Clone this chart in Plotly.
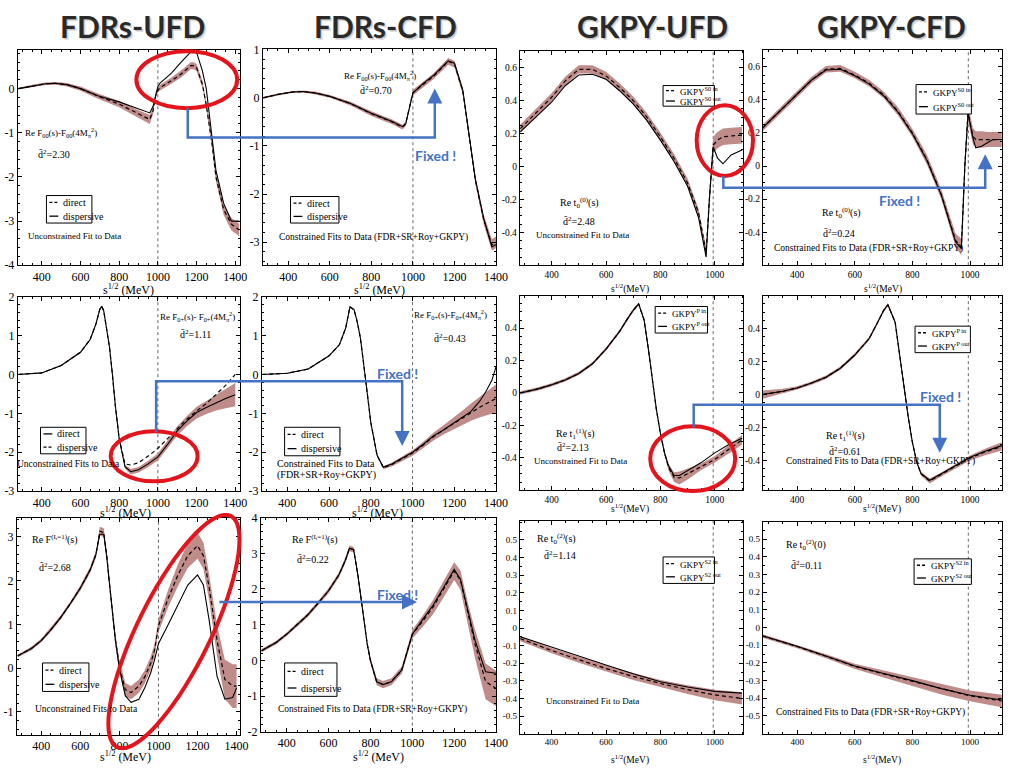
import math
import plotly.graph_objects as go

W, H = 1015, 777

# ---------------- data ----------------
# Row 1: Re F00(s)-F00(4M^2)  (FDRs)
f00u_x = [280, 350, 420, 470, 530, 600, 690, 800, 900, 958, 975, 990, 1000, 1010, 1070, 1120, 1170, 1185, 1200, 1230, 1250, 1280, 1300, 1340, 1380, 1420]
f00u_direct = [0, 0.06, 0.11, 0.12, 0.09, 0.0, -0.17, -0.35, -0.58, -0.70, -0.5, -0.12, -0.04, 0.02, 0.18, 0.33, 0.52, 0.52, 0.48, 0.1, -0.37, -1.26, -2.0, -2.74, -3.07, -3.2]
f00u_disp = [0, 0.06, 0.11, 0.12, 0.09, 0.0, -0.16, -0.30, -0.46, -0.55, -0.4, -0.1, 0.05, 0.12, 0.35, 0.6, 0.82, 0.9, 0.82, 0.4, 0.0, -1.1, -1.85, -2.6, -3.0, -3.0]
f00u_err = [0.02, 0.03, 0.03, 0.03, 0.04, 0.05, 0.06, 0.07, 0.09, 0.1, 0.08, 0.06, 0.06, 0.06, 0.07, 0.08, 0.08, 0.08, 0.08, 0.08, 0.08, 0.1, 0.1, 0.12, 0.14, 0.14]

f00c_x = [280, 350, 420, 470, 530, 600, 700, 800, 900, 950, 965, 985, 1000, 1050, 1100, 1170, 1200, 1240, 1270, 1300, 1340, 1380, 1400]
f00c_direct = [0, 0.07, 0.12, 0.13, 0.1, 0.03, -0.12, -0.33, -0.5, -0.61, -0.54, -0.13, 0.11, 0.28, 0.45, 0.76, 0.7, 0.14, -0.81, -1.7, -2.52, -3.06, -3.0]
f00c_disp = [0, 0.07, 0.12, 0.13, 0.1, 0.03, -0.12, -0.32, -0.49, -0.6, -0.55, -0.14, 0.1, 0.3, 0.47, 0.77, 0.72, 0.16, -0.78, -1.68, -2.5, -3.1, -3.05]
f00c_err = [0.02, 0.02, 0.02, 0.02, 0.03, 0.03, 0.04, 0.05, 0.05, 0.05, 0.05, 0.05, 0.06, 0.06, 0.06, 0.07, 0.07, 0.07, 0.07, 0.08, 0.1, 0.12, 0.12]

# Row 1: Re t0^(0)(s)  (GKPY)
s0u_x = [285, 350, 400, 450, 500, 550, 600, 650, 700, 750, 800, 850, 900, 940, 968, 980, 994, 1010, 1030, 1060, 1100]
s0u_in = [0.23, 0.34, 0.42, 0.52, 0.59, 0.59, 0.55, 0.48, 0.40, 0.30, 0.18, 0.05, -0.10, -0.28, -0.52, -0.2, 0.13, 0.16, 0.18, 0.185, 0.19]
s0u_out = [0.21, 0.31, 0.39, 0.49, 0.555, 0.56, 0.53, 0.46, 0.38, 0.28, 0.16, 0.03, -0.12, -0.31, -0.55, -0.2, 0.12, 0.05, 0.016, 0.07, 0.10]
s0u_err = [0.025, 0.025, 0.025, 0.025, 0.025, 0.025, 0.025, 0.025, 0.025, 0.025, 0.025, 0.025, 0.025, 0.025, 0.03, 0.04, 0.05, 0.05, 0.05, 0.05, 0.05]

s0c_x = [280, 350, 400, 450, 500, 550, 600, 650, 700, 750, 800, 850, 900, 950, 970, 982, 993, 1010, 1020, 1040, 1060, 1080, 1110]
s0c_in = [0.23, 0.35, 0.43, 0.52, 0.585, 0.59, 0.55, 0.5, 0.43, 0.33, 0.2, 0.04, -0.17, -0.45, -0.49, 0.0, 0.32, 0.18, 0.16, 0.16, 0.16, 0.16, 0.16]
s0c_out = [0.23, 0.35, 0.43, 0.52, 0.58, 0.585, 0.545, 0.495, 0.425, 0.325, 0.195, 0.035, -0.175, -0.46, -0.5, 0.0, 0.32, 0.17, 0.11, 0.12, 0.14, 0.16, 0.16]
s0c_err = [0.02, 0.02, 0.02, 0.02, 0.02, 0.02, 0.02, 0.02, 0.02, 0.025, 0.025, 0.03, 0.03, 0.04, 0.05, 0.05, 0.05, 0.05, 0.05, 0.05, 0.045, 0.045, 0.045]

# Row 2: Re F0+(s)-F0+(4M^2)  (FDRs)
f0pu_x = [280, 400, 500, 600, 650, 680, 700, 710, 720, 735, 750, 765, 780, 800, 830, 860, 900, 950, 1000, 1050, 1100, 1150, 1200, 1250, 1300, 1350, 1400]
f0pu_direct = [0, 0.04, 0.23, 0.57, 0.9, 1.3, 1.68, 1.75, 1.64, 1.2, 0.7, 0.0, -0.8, -1.65, -2.37, -2.5, -2.45, -2.3, -2.12, -1.8, -1.45, -1.2, -0.98, -0.85, -0.73, -0.62, -0.52]
f0pu_disp = [0, 0.04, 0.23, 0.57, 0.9, 1.3, 1.68, 1.75, 1.64, 1.2, 0.7, 0.0, -0.8, -1.65, -2.3, -2.33, -2.27, -2.1, -1.9, -1.65, -1.4, -1.15, -0.94, -0.75, -0.52, -0.28, 0.0]
f0pu_err = [0.01, 0.01, 0.01, 0.02, 0.02, 0.03, 0.03, 0.03, 0.03, 0.03, 0.03, 0.03, 0.03, 0.03, 0.05, 0.07, 0.07, 0.08, 0.09, 0.1, 0.12, 0.13, 0.15, 0.17, 0.2, 0.25, 0.3]

f0pc_x = [280, 400, 500, 600, 650, 680, 700, 720, 735, 750, 765, 780, 800, 830, 860, 900, 950, 1000, 1050, 1100, 1150, 1200, 1250, 1280, 1320, 1350, 1380, 1400]
f0pc_direct = [0, 0.03, 0.14, 0.48, 0.77, 1.2, 1.74, 1.66, 1.35, 0.94, 0.3, -0.4, -1.24, -2.08, -2.4, -2.32, -2.17, -2.02, -1.82, -1.6, -1.42, -1.25, -1.08, -0.97, -0.85, -0.76, -0.68, -0.62]
f0pc_disp = [0, 0.03, 0.14, 0.48, 0.77, 1.2, 1.74, 1.66, 1.35, 0.94, 0.3, -0.4, -1.24, -2.08, -2.38, -2.3, -2.15, -2.0, -1.8, -1.58, -1.42, -1.24, -1.08, -0.95, -0.7, -0.45, -0.15, 0.2]
f0pc_err = [0.01, 0.01, 0.01, 0.01, 0.01, 0.01, 0.01, 0.01, 0.01, 0.01, 0.01, 0.02, 0.02, 0.02, 0.04, 0.05, 0.06, 0.07, 0.08, 0.1, 0.12, 0.15, 0.2, 0.22, 0.26, 0.3, 0.33, 0.36]

# Row 2: Re t1^(1)(s)  (GKPY)
pu_x = [285, 350, 400, 450, 500, 550, 600, 650, 680, 700, 720, 740, 755, 770, 785, 800, 815, 830, 850, 870, 900, 950, 1000, 1050, 1100]
pu_in = [0, 0.025, 0.05, 0.08, 0.12, 0.18, 0.27, 0.38, 0.46, 0.51, 0.55, 0.45, 0.28, 0.077, -0.1, -0.25, -0.37, -0.46, -0.52, -0.525, -0.5, -0.455, -0.41, -0.35, -0.29]
pu_out = [0, 0.025, 0.05, 0.08, 0.12, 0.18, 0.27, 0.38, 0.46, 0.51, 0.55, 0.45, 0.28, 0.077, -0.1, -0.25, -0.37, -0.45, -0.51, -0.51, -0.48, -0.43, -0.37, -0.32, -0.28]
pu_err = [0.01, 0.01, 0.01, 0.01, 0.01, 0.01, 0.01, 0.01, 0.01, 0.01, 0.01, 0.01, 0.01, 0.01, 0.01, 0.01, 0.015, 0.02, 0.03, 0.04, 0.035, 0.02, 0.02, 0.025, 0.03]

pc_x = [280, 350, 400, 450, 500, 550, 600, 650, 680, 700, 715, 740, 755, 770, 785, 800, 815, 830, 860, 900, 950, 1000, 1050, 1110]
pc_in = [0, 0.02, 0.04, 0.07, 0.105, 0.16, 0.24, 0.34, 0.44, 0.51, 0.545, 0.44, 0.25, 0.045, -0.13, -0.29, -0.41, -0.48, -0.525, -0.485, -0.435, -0.385, -0.35, -0.315]
pc_out = [0, 0.02, 0.04, 0.07, 0.105, 0.16, 0.24, 0.34, 0.44, 0.51, 0.545, 0.44, 0.25, 0.045, -0.13, -0.29, -0.41, -0.48, -0.52, -0.48, -0.43, -0.38, -0.345, -0.31]
pc_err = [0.025, 0.015, 0.01, 0.01, 0.01, 0.01, 0.01, 0.01, 0.01, 0.01, 0.01, 0.01, 0.01, 0.01, 0.01, 0.01, 0.01, 0.012, 0.015, 0.012, 0.012, 0.015, 0.02, 0.025]

# Row 3: Re F^(It=1)(s)  (FDRs)
f1u_x = [280, 350, 400, 450, 500, 550, 600, 650, 680, 700, 720, 735, 750, 765, 780, 800, 830, 860, 900, 930, 960, 980, 1000, 1050, 1100, 1150, 1200, 1230, 1260, 1300, 1340, 1380, 1400]
f1u_direct = [0.28, 0.45, 0.63, 0.88, 1.16, 1.48, 1.83, 2.24, 2.6, 3.13, 3.1, 2.6, 1.9, 1.2, 0.63, 0.04, -0.49, -0.56, -0.41, -0.2, 0.11, 0.41, 0.97, 1.6, 2.13, 2.57, 2.8, 2.57, 1.83, 0.63, -0.26, -0.41, -0.41]
f1u_disp = [0.28, 0.45, 0.63, 0.88, 1.16, 1.48, 1.83, 2.24, 2.6, 3.06, 3.06, 2.55, 1.9, 1.2, 0.63, 0.0, -0.63, -0.78, -0.71, -0.45, -0.11, 0.19, 0.56, 1.0, 1.46, 1.9, 2.13, 1.9, 1.08, -0.19, -0.71, -0.67, -0.45]
f1u_err = [0.03, 0.04, 0.04, 0.05, 0.05, 0.05, 0.06, 0.07, 0.08, 0.1, 0.1, 0.1, 0.1, 0.1, 0.12, 0.15, 0.15, 0.15, 0.15, 0.15, 0.15, 0.15, 0.15, 0.2, 0.25, 0.28, 0.3, 0.3, 0.3, 0.35, 0.45, 0.5, 0.5]

f1c_x = [280, 350, 400, 450, 500, 550, 600, 650, 680, 700, 720, 740, 755, 770, 785, 800, 830, 860, 900, 950, 980, 1000, 1050, 1100, 1150, 1200, 1230, 1270, 1300, 1350, 1400]
f1c_direct = [0.27, 0.5, 0.73, 1.0, 1.27, 1.6, 1.95, 2.4, 2.8, 3.14, 3.1, 2.4, 1.7, 1.0, 0.45, 0.0, -0.6, -0.68, -0.6, -0.27, 0.32, 0.73, 1.1, 1.5, 2.0, 2.5, 2.25, 1.2, 0.45, -0.59, -0.79]
f1c_disp = [0.27, 0.5, 0.73, 1.0, 1.27, 1.6, 1.95, 2.4, 2.8, 3.14, 3.1, 2.4, 1.7, 1.0, 0.45, 0.0, -0.6, -0.68, -0.6, -0.27, 0.32, 0.73, 1.15, 1.55, 2.05, 2.55, 2.27, 1.27, 0.55, -0.32, -0.36]
f1c_err = [0.05, 0.05, 0.05, 0.05, 0.06, 0.06, 0.07, 0.07, 0.08, 0.08, 0.08, 0.08, 0.08, 0.08, 0.08, 0.08, 0.1, 0.1, 0.1, 0.1, 0.12, 0.12, 0.16, 0.2, 0.23, 0.25, 0.27, 0.3, 0.4, 0.5, 0.5]

# Row 3: Re t0^(2)(s)  (GKPY)
s2u_x = [285, 400, 500, 600, 700, 800, 900, 1000, 1100]
s2u_in = [-0.06, -0.128, -0.18, -0.23, -0.275, -0.315, -0.35, -0.38, -0.40]
s2u_out = [-0.05, -0.11, -0.16, -0.21, -0.26, -0.305, -0.335, -0.36, -0.37]
s2u_err = [0.015, 0.015, 0.017, 0.018, 0.02, 0.02, 0.025, 0.03, 0.035]

s2c_x = [280, 400, 500, 600, 700, 800, 900, 1000, 1110]
s2c_in = [-0.048, -0.107, -0.162, -0.219, -0.262, -0.303, -0.348, -0.386, -0.415]
s2c_out = [-0.046, -0.105, -0.16, -0.217, -0.26, -0.3, -0.345, -0.383, -0.41]
s2c_err = [0.01, 0.01, 0.012, 0.015, 0.02, 0.025, 0.03, 0.03, 0.035]

# tick labels
fdr_xticks = [400, 600, 800, 1000, 1200, 1400]
gkpy_xticks = [400, 600, 800, 1000]
f00u_yticks = [0, -1, -2, -3, -4]
f00c_yticks = [1, 0, -1, -2, -3]
s0_yticks = [0.6, 0.4, 0.2, 0, -0.2, -0.4]
f0p_yticks = [2, 1, 0, -1, -2, -3]
p_yticks = [0.4, 0.2, 0, -0.2, -0.4]
f1u_yticks = [3, 2, 1, 0, -1]
f1c_yticks = [4, 3, 2, 1, 0, -1, -2]
s2_yticks = [0.5, 0.4, 0.3, 0.2, 0.1, 0, -0.1, -0.2, -0.3, -0.4, -0.5]

col_titles = ["FDRs-UFD", "FDRs-CFD", "GKPY-UFD", "GKPY-CFD"]

# ---------------- layout helpers ----------------
def PX(x):
    return x / W

def PY(y):
    return 1 - y / H

BAND = "#c08c8a"
TFONT = "Liberation Serif"

panels = [
    dict(box=(18, 243, 44, 263), xr=[276, 1425], yr=[-4, 0.87], xt=fdr_xticks, yt=f00u_yticks, xm=50, ym=0.2, fs=12,
         x=f00u_x, dash=f00u_direct, solid=f00u_disp, err=f00u_err, band="dash", vl=1000),
    dict(box=(266, 502, 43, 263), xr=[278, 1400], yr=[-3.48, 1.01], xt=fdr_xticks, yt=f00c_yticks, xm=50, ym=0.2, fs=12,
         x=f00c_x, dash=f00c_direct, solid=f00c_disp, err=f00c_err, band="dash", vl=1000),
    dict(box=(526, 752, 45, 263), xr=[283, 1104], yr=[-0.6, 0.7], xt=gkpy_xticks, yt=s0_yticks, xm=50, ym=0.05, fs=9.5,
         x=s0u_x, dash=s0u_in, solid=s0u_out, err=s0u_err, band="dash", vl=994),
    dict(box=(772, 1014, 44, 263), xr=[281, 1111], yr=[-0.6, 0.7], xt=gkpy_xticks, yt=s0_yticks, xm=50, ym=0.05, fs=9.5,
         x=s0c_x, dash=s0c_in, solid=s0c_out, err=s0c_err, band="dash", vl=994),
    dict(box=(18, 243, 295, 493), xr=[276, 1425], yr=[-3, 2], xt=fdr_xticks, yt=f0p_yticks, xm=50, ym=0.2, fs=12,
         x=f0pu_x, dash=f0pu_disp, solid=f0pu_direct, err=f0pu_err, band="solid", vl=1000),
    dict(box=(265, 502, 295, 493), xr=[278, 1400], yr=[-3, 2], xt=fdr_xticks, yt=f0p_yticks, xm=50, ym=0.2, fs=12,
         x=f0pc_x, dash=f0pc_direct, solid=f0pc_disp, err=f0pc_err, band="dash", vl=1000),
    dict(box=(526, 752, 294, 492), xr=[283, 1104], yr=[-0.6, 0.6], xt=gkpy_xticks, yt=p_yticks, xm=50, ym=0.05, fs=9.5,
         x=pu_x, dash=pu_in, solid=pu_out, err=pu_err, band="dash", vl=994),
    dict(box=(772, 1014, 294, 492), xr=[281, 1111], yr=[-0.58, 0.6], xt=gkpy_xticks, yt=p_yticks, xm=50, ym=0.05, fs=9.5,
         x=pc_x, dash=pc_in, solid=pc_out, err=pc_err, band="dash", vl=994),
    dict(box=(17, 243, 520, 741), xr=[275, 1418], yr=[-1.52, 3.44], xt=fdr_xticks, yt=f1u_yticks, xm=50, ym=0.2, fs=12,
         x=f1u_x, dash=f1u_direct, solid=f1u_disp, err=f1u_err, band="dash", vl=1000),
    dict(box=(264, 502, 520, 738), xr=[277, 1400], yr=[-2, 4], xt=fdr_xticks, yt=f1c_yticks, xm=50, ym=0.2, fs=12,
         x=f1c_x, dash=f1c_direct, solid=f1c_disp, err=f1c_err, band="dash", vl=1000),
    dict(box=(526, 752, 523, 740), xr=[283, 1104], yr=[-0.6, 0.61], xt=gkpy_xticks, yt=s2_yticks, xm=50, ym=0.05, fs=9,
         x=s2u_x, dash=s2u_in, solid=s2u_out, err=s2u_err, band="dash", vl=994),
    dict(box=(772, 1014, 524, 740), xr=[281, 1111], yr=[-0.6, 0.6], xt=gkpy_xticks, yt=s2_yticks, xm=50, ym=0.05, fs=9,
         x=s2c_x, dash=s2c_in, solid=s2c_out, err=s2c_err, band="dash", vl=994),
]

fig = go.Figure()
shapes = []
annos = []
layout = dict(width=W, height=H, margin=dict(l=0, r=0, t=0, b=0), paper_bgcolor="white",
              plot_bgcolor="white", showlegend=False)

for i, p in enumerate(panels, start=1):
    xa, ya = f"x{i}" if i > 1 else "x", f"y{i}" if i > 1 else "y"
    xk, yk = f"xaxis{i}" if i > 1 else "xaxis", f"yaxis{i}" if i > 1 else "yaxis"
    x0, x1, y0, y1 = p["box"]
    common = dict(showgrid=False, zeroline=False, showline=True, linecolor="black", linewidth=1,
                  mirror="ticks", ticks="inside", ticklen=4, tickcolor="black",
                  tickfont=dict(family=TFONT, size=p["fs"], color="black"))
    layout[xk] = dict(domain=[PX(x0), PX(x1)], range=p["xr"], anchor=ya,
                      tickvals=p["xt"], ticktext=[f"{v:g}" for v in p["xt"]], ticklabelstandoff=0,
                      minor=dict(ticks="inside", ticklen=2, dtick=p["xm"], tick0=0, tickcolor="black", showgrid=False),
                      **common)
    layout[yk] = dict(domain=[PY(y1), PY(y0)], range=p["yr"], anchor=xa,
                      tickvals=p["yt"], ticktext=[f"{v:g}" for v in p["yt"]],
                      minor=dict(ticks="inside", ticklen=2, dtick=p["ym"], tick0=0, tickcolor="black", showgrid=False),
                      **common)
    base = p[p["band"]]
    lo = [b - e for b, e in zip(base, p["err"])]
    hi = [b + e for b, e in zip(base, p["err"])]
    fig.add_trace(go.Scatter(x=p["x"], y=lo, mode="lines", line=dict(width=0, color=BAND), xaxis=xa, yaxis=ya,
                             hoverinfo="skip"))
    fig.add_trace(go.Scatter(x=p["x"], y=hi, mode="lines", line=dict(width=0, color=BAND), fill="tonexty",
                             fillcolor=BAND, xaxis=xa, yaxis=ya, hoverinfo="skip"))
    fig.add_trace(go.Scatter(x=p["x"], y=p["dash"], mode="lines", line=dict(color="black", width=1.2, dash="4px,3px"),
                             xaxis=xa, yaxis=ya))
    fig.add_trace(go.Scatter(x=p["x"], y=p["solid"], mode="lines", line=dict(color="black", width=1.1),
                             xaxis=xa, yaxis=ya))
    shapes.append(dict(type="line", xref=xa, yref=f"{ya} domain", x0=p["vl"], x1=p["vl"], y0=0, y1=1,
                       line=dict(color="#666", width=1, dash="dot"), layer="below"))


def text(x, y, t, size=10, color="black", family=TFONT, xanchor="center", yanchor="middle"):
    annos.append(dict(x=PX(x), y=PY(y), xref="paper", yref="paper", text=t, showarrow=False,
                      font=dict(family=family, size=size, color=color), xanchor=xanchor, yanchor=yanchor))


def legend(x0, y0, x1, y1, entries, size=9, samp=9):
    shapes.append(dict(type="rect", xref="paper", yref="paper", x0=PX(x0), x1=PX(x1), y0=PY(y1), y1=PY(y0),
                       line=dict(color="black", width=1), fillcolor="white"))
    rh = (y1 - y0) / len(entries)
    for k, (style, lab) in enumerate(entries):
        yc = y0 + rh * (k + 0.5)
        shapes.append(dict(type="line", xref="paper", yref="paper", x0=PX(x0 + 3), x1=PX(x0 + 3 + samp),
                           y0=PY(yc), y1=PY(yc),
                           line=dict(color="black", width=1.3, dash="3px,2px" if style == "dash" else "solid")))
        text(x0 + 6 + samp, yc, lab, size=size, xanchor="left")


DB = "d\u0304<sup>2</sup>"
# panel annotations
text(62, 128, "Re F<sub>00</sub>(s)-F<sub>00</sub>(4M<sub>\u03c0</sub><sup>2</sup>)", 9)
text(55, 150, DB + "=2.30", 10)
text(75, 233, "Unconstrained Fit to Data", 9)
legend(47, 192, 93, 220, [("dash", "direct"), ("solid", "dispersive")], 10)

text(385, 70, "Re F<sub>00</sub>(s)-F<sub>00</sub>(4M<sub>\u03c0</sub><sup>2</sup>)", 9)
text(380, 85, DB + "=0.70", 10)
text(378, 235, "Constrained Fits to Data (FDR+SR+Roy+GKPY)", 9.5)
legend(294, 193, 343, 220, [("dash", "direct"), ("solid", "dispersive")], 10)

text(586, 200, "Re t<sub>0</sub><sup>(0)</sup>(s)", 10)
text(586, 218, DB + "=2.48", 10)
text(589, 232, "Unconstrained Fit to Data", 9)
legend(671, 80, 723, 101, [("dash", "GKPY<sup>S0 in</sup>"), ("solid", "GKPY<sup>S0 out</sup>")], 9)

text(852, 210, "Re t<sub>0</sub><sup>(0)</sup>(s)", 10)
text(849, 230, DB + "=0.24", 10)
text(879, 246, "Constrained Fits to Data (FDR+SR+Roy+GKPY)", 9.5)
legend(927, 79, 983, 109, [("dash", "GKPY<sup>S0 in</sup>"), ("solid", "GKPY<sup>S0 out</sup>")], 9)

text(200, 315, "Re F<sub>0+</sub>(s)- F<sub>0+</sub>(4M<sub>\u03c0</sub><sup>2</sup>)", 9)
text(198, 333, DB + "=1.11", 10)
text(69, 465, "Unconstrained Fits to Data", 9.5)
legend(41, 428, 87, 455, [("solid", "direct"), ("dash", "dispersive")], 10)

text(456, 313, "Re F<sub>0+</sub>(s)-F<sub>0+</sub>(4M<sub>\u03c0</sub><sup>2</sup>)", 9)
text(455, 337, DB + "=0.43", 10)
text(330, 465, "Constrained Fits to Data", 10)
text(330, 477, "(FDR+SR+Roy+GKPY)", 10)
legend(288, 428, 344, 457, [("dash", "direct"), ("solid", "dispersive")], 10)

text(582, 435, "Re t<sub>1</sub><sup>(1)</sup>(s)", 10)
text(580, 448, DB + "=2.13", 10)
text(587, 462, "Unconstrained Fit to Data", 9)
legend(663, 305, 716, 332, [("dash", "GKPY<sup>P in</sup>"), ("solid", "GKPY<sup>P out</sup>")], 9)

text(856, 437, "Re t<sub>1</sub><sup>(1)</sup>(s)", 10)
text(855, 452, DB + "=0.61", 10)
text(891, 463, "Constrained Fits to Data (FDR+SR+Roy+GKPY)", 9.5)
legend(926, 325, 982, 352, [("dash", "GKPY<sup>P in</sup>"), ("solid", "GKPY<sup>P out</sup>")], 9)

text(56, 542, "Re F<sup>(I<sub>t</sub>=1)</sup>(s)", 10)
text(56, 570, DB + "=2.68", 10)
text(88, 715, "Unconstrained Fits to Data", 9.5)
legend(43, 668, 90, 697, [("dash", "direct"), ("solid", "dispersive")], 10)

text(319, 542, "Re F<sup>(I<sub>t</sub>=1)</sup>(s)", 10)
text(317, 562, DB + "=0.22", 10)
text(377, 715, "Constrained Fits to Data (FDR+SR+Roy+GKPY)", 9.5)
legend(288, 668, 341, 702, [("dash", "direct"), ("solid", "dispersive")], 10)

text(563, 542, "Re t<sub>0</sub><sup>(2)</sup>(s)", 10)
text(567, 558, DB + "=1.14", 10)
text(600, 707, "Unconstrained Fit to Data", 9)
legend(671, 560, 723, 587, [("dash", "GKPY<sup>S2 in</sup>"), ("solid", "GKPY<sup>S2 out</sup>")], 9)

text(816, 548, "Re t<sub>0</sub><sup>(2)</sup>(0)", 10)
text(816, 568, DB + "=0.11", 10)
text(881, 718, "Constrained Fits to Data (FDR+SR+Roy+GKPY)", 9.5)
legend(925, 562, 983, 588, [("dash", "GKPY<sup>S2 in</sup>"), ("solid", "GKPY<sup>S2 out</sup>")], 9)

# x-axis titles
SX = "s<sup>1/2</sup> (MeV)"
SXg = "s<sup>1/2</sup>(MeV)"
for (cx, cy, t, fs) in [(130, 288, SX, 12), (384, 288, SX, 12), (638, 287, SXg, 9.5), (894, 287, SXg, 9.5),
                        (127, 515, SX, 12), (382, 515, SX, 12), (638, 511, SXg, 9.5), (893, 511, SXg, 9.5),
                        (127, 763, SX, 12), (383, 763, SX, 12), (638, 766, SXg, 9.5), (893, 766, SXg, 9.5)]:
    text(cx, cy, t, fs)

# column titles with soft shadow
for cx, t in zip([134, 390, 660, 902], col_titles):
    text(cx + 2.5, 21.5, f"<b>{t}</b>", 30, color="rgba(0,0,0,0.15)", family="Lato")
    text(cx + 1.5, 20.5, f"<b>{t}</b>", 30, color="rgba(0,0,0,0.15)", family="Lato")
    text(cx, 19, f"<b>{t}</b>", 30, color="#2a2a2a", family="Lato")

# red ellipses
RED = "#e3141b"
for (ex0, ex1, ey0, ey1) in [(138, 240, 45, 103), (705, 762, 100, 172), (112, 200, 432, 483), (658, 744, 427, 493)]:
    shapes.append(dict(type="circle", xref="paper", yref="paper", x0=PX(ex0), x1=PX(ex1), y0=PY(ey1), y1=PY(ey0),
                       line=dict(color=RED, width=4)))
cx, cy, a, b, th = 176, 636, 131, 37, math.radians(64)
pts = []
for k in range(73):
    t = 2 * math.pi * k / 72
    xx = cx + a * math.cos(t) * math.cos(th) + b * math.sin(t) * math.sin(th)
    yy = cy - a * math.cos(t) * math.sin(th) + b * math.sin(t) * math.cos(th)
    pts.append((PX(xx), PY(yy)))
path = "M " + " L ".join(f"{u:.5f},{v:.5f}" for u, v in pts) + " Z"
shapes.append(dict(type="path", xref="paper", yref="paper", path=path, line=dict(color=RED, width=4)))

# blue arrows
BLUE = "#4472c4"
arrows = [
    ([(190, 103), (190, 133), (440, 133), (440, 93)], (440, 83), (0, 14)),
    ([(732, 172), (732, 184), (997, 184), (997, 160)], (997, 150), (0, 14)),
    ([(158, 433), (158, 381), (407, 381), (407, 437)], (407, 447), (0, -14)),
    ([(702, 428), (702, 405), (951, 405), (951, 444)], (951, 454), (0, -14)),
    ([(222, 606), (412, 606)], (422, 606), (-14, 0)),
]
for poly, tip, off in arrows:
    path = "M " + " L ".join(f"{PX(u):.5f},{PY(v):.5f}" for u, v in poly)
    shapes.append(dict(type="path", xref="paper", yref="paper", path=path, line=dict(color=BLUE, width=2.5)))
    annos.append(dict(x=PX(tip[0]), y=PY(tip[1]), xref="paper", yref="paper", ax=off[0], ay=off[1],
                      axref="pixel", ayref="pixel", text="", showarrow=True, arrowhead=2, arrowsize=1.2,
                      arrowwidth=2.5, arrowcolor=BLUE, standoff=0))
for (fx, fy) in [(441, 151), (910, 197), (402, 373), (952, 397), (402, 598)]:
    text(fx, fy, "<b>Fixed !</b>", 14, color=BLUE, family="Lato")

layout["shapes"] = shapes
layout["annotations"] = annos
fig.update_layout(**layout)
fig.write_html("out.html")
